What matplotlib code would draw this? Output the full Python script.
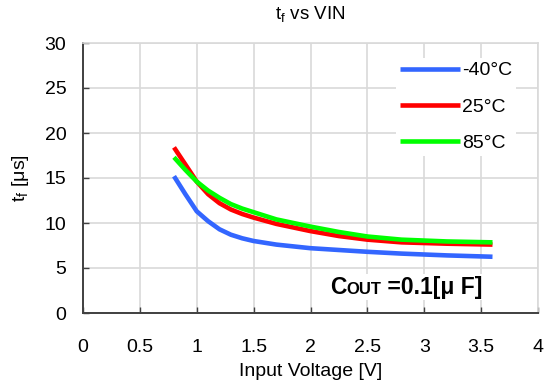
import matplotlib
matplotlib.use("Agg")
import matplotlib.pyplot as plt
from matplotlib.offsetbox import TextArea, HPacker, AnnotationBbox

# data
vin = [0.8, 0.9, 1.0, 1.1, 1.2, 1.3, 1.4, 1.5, 1.7, 2.0, 2.25, 2.5, 2.8, 3.2, 3.6]
tf_m40 = [15.2, 13.2, 11.3, 10.2, 9.3, 8.7, 8.3, 8.0, 7.6, 7.2, 7.0, 6.8, 6.6, 6.4, 6.25]
tf_25 = [18.4, 16.5, 14.6, 13.2, 12.2, 11.5, 11.0, 10.6, 9.9, 9.1, 8.55, 8.15, 7.85, 7.7, 7.6]
tf_85 = [17.3, 15.9, 14.6, 13.6, 12.8, 12.1, 11.6, 11.2, 10.4, 9.6, 9.0, 8.5, 8.15, 7.95, 7.85]
labels = ["-40°C", "25°C", "85°C"]
colors = ["#3366ff", "#ff0000", "#00ff00"]

x_ticks = [0, 0.5, 1, 1.5, 2, 2.5, 3, 3.5, 4]
x_ticklabels = ["0", "0.5", "1", "1.5", "2", "2.5", "3", "3.5", "4"]
y_ticks = [0, 5, 10, 15, 20, 25, 30]

plt.rcParams["font.family"] = ["Liberation Sans", "DejaVu Sans"]

fig = plt.figure(figsize=(5.55, 3.87), dpi=100)
ax = fig.add_axes([83 / 555, 1 - 313 / 387, (538 - 83) / 555, (313 - 43) / 387])

for ys, lab, c in zip([tf_m40, tf_25, tf_85], labels, colors):
    ax.plot(vin, ys, color=c, lw=3.3, label=lab, solid_capstyle="butt",
            solid_joinstyle="round")

ax.set_xlim(0, 4)
ax.set_ylim(0, 30)
ax.set_xticks(x_ticks)
ax.set_xticklabels(x_ticklabels)
ax.set_yticks(y_ticks)
ax.grid(True, color="#d9d9d9", lw=1.2)
ax.set_axisbelow(True)
ax.tick_params(direction="in", length=4, width=1, color="#404040",
               labelsize=14)
ax.tick_params(axis="x", pad=19)
ax.tick_params(axis="y", pad=12)

for s in ["top", "right"]:
    ax.spines[s].set_color("#d9d9d9")
    ax.spines[s].set_linewidth(1.2)
for s in ["left", "bottom"]:
    ax.spines[s].set_color("#404040")
    ax.spines[s].set_linewidth(1.4)

ax.set_xlabel("Input Voltage [V]", fontsize=14, labelpad=5)
ax.set_ylabel(r"t$_\mathregular{f}$ [μs]", fontsize=14, labelpad=10)
ax.set_title(r"t$_\mathregular{f}$ vs VIN", fontsize=13.5, pad=17)

leg = ax.legend(loc="upper right", bbox_to_anchor=(0.952, 0.945), frameon=True,
                fontsize=14, handlelength=3.1, handletextpad=0.1,
                labelspacing=0.97, borderaxespad=0, borderpad=0.2)
leg.get_frame().set_edgecolor("none")
leg.get_frame().set_facecolor("white")
leg.get_frame().set_alpha(1)

big = dict(fontsize=16.5, fontweight="bold", color="black")
small = dict(fontsize=12, fontweight="bold", color="black")
parts = HPacker(children=[TextArea("C", textprops=big),
                          TextArea("OUT", textprops=small),
                          TextArea(" =0.1[μ F]", textprops=big)],
                align="baseline", pad=0, sep=0)
ab = AnnotationBbox(parts, (0.543, 0.096), xycoords="axes fraction",
                    box_alignment=(0, 0.5), frameon=True, pad=0.1,
                    bboxprops=dict(facecolor="white", edgecolor="none"))
ax.add_artist(ab)

fig.savefig("out.png", dpi=100)
